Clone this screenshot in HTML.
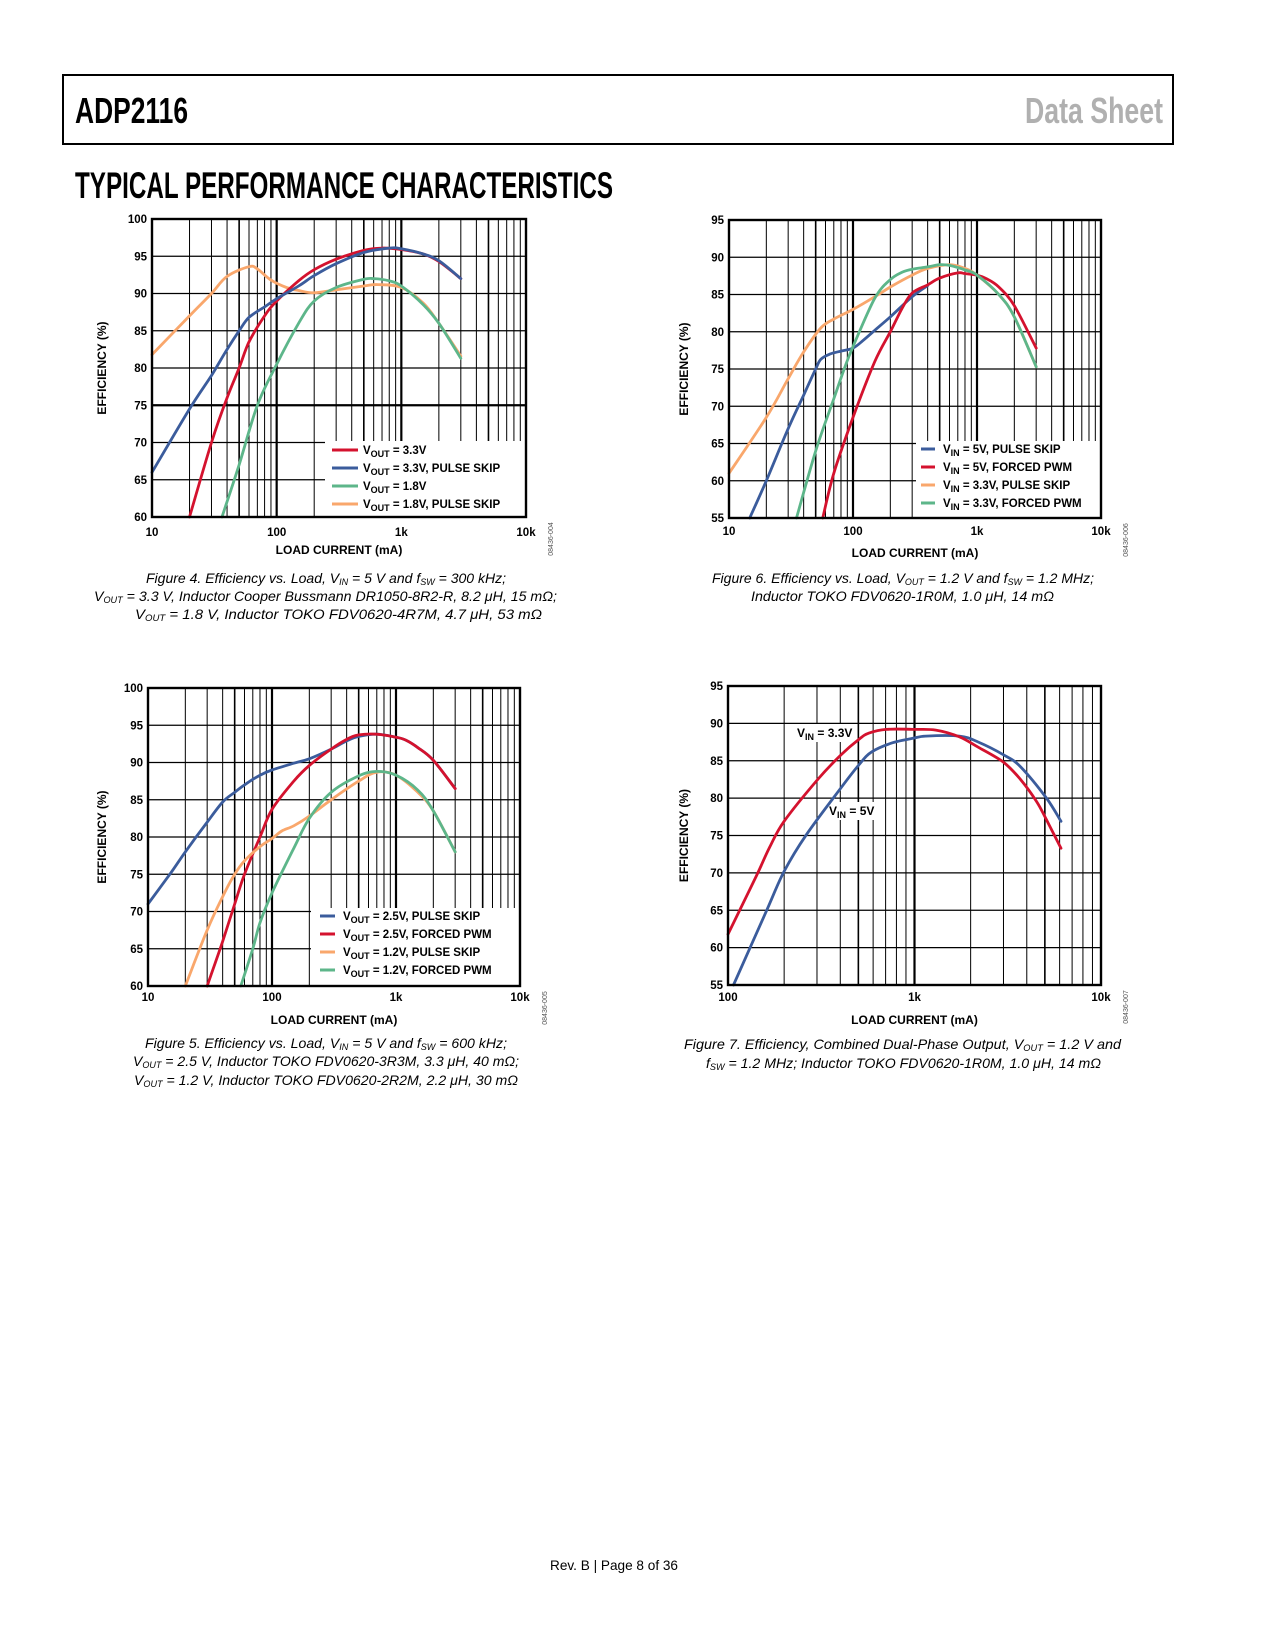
<!DOCTYPE html>
<html><head><meta charset="utf-8"><style>
html,body{margin:0;padding:0;background:#fff}
svg{display:block}
</style></head><body>
<svg id="page" xmlns="http://www.w3.org/2000/svg" width="1275" height="1650" viewBox="0 0 1275 1650" font-family="Liberation Sans, sans-serif">
<rect x="63" y="75" width="1110" height="69" fill="none" stroke="#000" stroke-width="2"/>
<text x="75" y="123" font-size="36" font-weight="bold" textLength="113" lengthAdjust="spacingAndGlyphs">ADP2116</text>
<text x="1025" y="123" font-size="36" font-weight="bold" fill="#b0b0b0" textLength="138" lengthAdjust="spacingAndGlyphs">Data Sheet</text>
<text x="75" y="198" font-size="37" font-weight="bold" textLength="538" lengthAdjust="spacingAndGlyphs">TYPICAL PERFORMANCE CHARACTERISTICS</text>

<g font-style="italic" font-size="14">
<text x="146" y="583" textLength="360" lengthAdjust="spacingAndGlyphs">Figure 4. Efficiency vs. Load, V<tspan font-size="9" dy="2">IN</tspan><tspan dy="-2"> = 5 V and f</tspan><tspan font-size="9" dy="2">SW</tspan><tspan dy="-2"> = 300 kHz;</tspan></text>
<text x="94" y="601" textLength="463" lengthAdjust="spacingAndGlyphs">V<tspan font-size="9" dy="2">OUT</tspan><tspan dy="-2"> = 3.3 V, Inductor Cooper Bussmann DR1050-8R2-R, 8.2 μH, 15 mΩ;</tspan></text>
<text x="135" y="619" textLength="407" lengthAdjust="spacingAndGlyphs">V<tspan font-size="9" dy="2">OUT</tspan><tspan dy="-2"> = 1.8 V, Inductor TOKO FDV0620-4R7M, 4.7 μH, 53 mΩ</tspan></text>
</g>
<g font-style="italic" font-size="14">
<text x="712" y="583" textLength="382" lengthAdjust="spacingAndGlyphs">Figure 6. Efficiency vs. Load, V<tspan font-size="9" dy="2">OUT</tspan><tspan dy="-2"> = 1.2 V and f</tspan><tspan font-size="9" dy="2">SW</tspan><tspan dy="-2"> = 1.2 MHz;</tspan></text>
<text x="751" y="601" textLength="303" lengthAdjust="spacingAndGlyphs">Inductor TOKO FDV0620-1R0M, 1.0 μH, 14 mΩ</text>
</g>
<g font-style="italic" font-size="14">
<text x="145" y="1048" textLength="362" lengthAdjust="spacingAndGlyphs">Figure 5. Efficiency vs. Load, V<tspan font-size="9" dy="2">IN</tspan><tspan dy="-2"> = 5 V and f</tspan><tspan font-size="9" dy="2">SW</tspan><tspan dy="-2"> = 600 kHz;</tspan></text>
<text x="133" y="1066" textLength="386" lengthAdjust="spacingAndGlyphs">V<tspan font-size="9" dy="2">OUT</tspan><tspan dy="-2"> = 2.5 V, Inductor TOKO FDV0620-3R3M, 3.3 μH, 40 mΩ;</tspan></text>
<text x="134" y="1085" textLength="384" lengthAdjust="spacingAndGlyphs">V<tspan font-size="9" dy="2">OUT</tspan><tspan dy="-2"> = 1.2 V, Inductor TOKO FDV0620-2R2M, 2.2 μH, 30 mΩ</tspan></text>
</g>
<g font-style="italic" font-size="14">
<text x="684" y="1049" textLength="437" lengthAdjust="spacingAndGlyphs">Figure 7. Efficiency, Combined Dual-Phase Output, V<tspan font-size="9" dy="2">OUT</tspan><tspan dy="-2"> = 1.2 V and</tspan></text>
<text x="706" y="1068" textLength="395" lengthAdjust="spacingAndGlyphs">f<tspan font-size="9" dy="2">SW</tspan><tspan dy="-2"> = 1.2 MHz; Inductor TOKO FDV0620-1R0M, 1.0 μH, 14 mΩ</tspan></text>
</g>
<text x="550" y="1570" font-size="14" textLength="128" lengthAdjust="spacingAndGlyphs">Rev. B | Page 8 of 36</text>
<g id="charts"></g>
</svg>
<script>
// ---- Figure 4 data ----
const f4RedX=[20,30,40,50,60,80,100,150,200,300,500,700,1000,1500,2000,3000];
const f4RedY=[60,70,76,80,83.5,87,89,91.7,93.2,94.6,95.8,96.1,95.9,95.3,94.3,92];
const f4BlueX=[10,20,30,40,50,60,80,100,150,200,300,500,800,1000,1500,2000,3000];
const f4BlueY=[66,74.5,79,82.5,85,86.8,88.2,89.3,91,92.4,94,95.5,96.1,96,95.3,94.4,92];
const f4GreenX=[36.4,50,70,100,150,200,300,500,600,800,1000,1500,2000,3000];
const f4GreenY=[60,67,75,80.5,86,89,90.8,91.9,92,91.7,91,88.5,86,81.3];
const f4OrangeX=[10,20,30,40,60,70,90,120,150,200,300,500,650,1000,1500,2000,3000];
const f4OrangeY=[81.8,87,90,92.3,93.6,93.3,91.8,90.8,90.4,90.1,90.5,91,91.2,90.8,88.7,86,81.6];
const f4YTicks=["60","65","70","75","80","85","90","95","100"];
const f4XTicks=["10","100","1k","10k"];
// ---- Figure 6 data ----
const f6BlueX=[14.7,20,30,40,50,55,65,80,100,120,150,200,300,400];
const f6BlueY=[55,60,67,71.5,75,76.3,77,77.4,77.8,78.8,80.2,82,84.7,86.2];
const f6RedX=[57,70,100,150,200,250,300,400,500,700,800,1000,1200,1500,2000,3000];
const f6RedY=[55,61,68.5,76,80,83.2,85.2,86.3,87.2,87.9,87.8,87.6,87.1,86,83.5,77.8];
const f6OrangeX=[10,20,30,40,55,70,100,150,200,300,400,600,800,1000,1500,2000,3000];
const f6OrangeY=[61,68.5,73.7,77.3,80.5,81.7,83,84.7,86,87.6,88.5,89,88.5,87.6,85,82,75.3];
const f6GreenX=[35,50,70,85,100,150,200,250,300,400,500,600,800,1000,1500,2000,3000];
const f6GreenY=[55,64,71,75,78,84.5,87,88,88.4,88.7,89,88.9,88.3,87.6,85,82,75.3];
const f6YTicks=["55","60","65","70","75","80","85","90","95"];
const f6XTicks=["10","100","1k","10k"];
// ---- Figure 5 data ----
const f5BlueX=[10,15,20,30,40,50,60,80,100,150,200,300,400,500,700,1000,1200,1500,2000,3000];
const f5BlueY=[71,75,78,82,84.7,86,87,88.3,89,89.9,90.5,91.8,92.9,93.5,93.8,93.4,93,92,90.3,86.5];
const f5RedX=[30,40,50,60,80,100,150,200,300,400,500,700,1000,1200,1500,2000,3000];
const f5RedY=[60,66,71,75,80,83.7,87.5,89.6,91.8,93.1,93.7,93.8,93.4,93,92,90.3,86.5];
const f5OrangeX=[20,30,40,50,60,80,100,120,150,200,300,500,700,1000,1500,2000,3000];
const f5OrangeY=[60,67.5,72,75,76.8,78.7,79.8,80.8,81.5,82.8,85,87.5,88.7,88.3,86,83.5,78];
const f5GreenX=[56,70,80,100,150,200,300,500,700,1000,1500,2000,3000];
const f5GreenY=[60,65,68.5,72.5,78.5,82.5,86,88.2,88.8,88.3,86.3,83.5,78];
const f5YTicks=["60","65","70","75","80","85","90","95","100"];
const f5XTicks=["10","100","1k","10k"];
// ---- Figure 7 data ----
const f7RedX=[100,142,167,200,303,404,505,570,705,1000,1300,1740,2200,3000,3700,4500,5100,6100];
const f7RedY=[61.8,69.6,73.4,76.9,82.5,85.8,87.9,88.7,89.2,89.2,89.1,88.2,86.8,84.8,82.5,79.6,77.1,73.3];
const f7BlueX=[107,160,200,263,404,505,590,760,980,1150,1740,2200,3000,3700,5100,6100];
const f7BlueY=[55,64.8,70.2,75.1,81.4,84.5,86.2,87.4,88,88.3,88.3,87.5,85.8,84.2,80,76.9];
const f7YTicks=["55","60","65","70","75","80","85","90","95"];
const f7XTicks=["100","1k","10k"];

const RED="#d4122e",BLUE="#3b5c9c",GREEN="#5db68a",ORANGE="#f9a76c";
const NS="http://www.w3.org/2000/svg";
const root=document.getElementById('charts');
function mk(tag,attrs,parent){const e=document.createElementNS(NS,tag);for(const k in attrs)e.setAttribute(k,attrs[k]);(parent||root).appendChild(e);return e;}
function catmull(pts){let d="M"+pts[0][0].toFixed(1)+","+pts[0][1].toFixed(1);
 for(let i=0;i<pts.length-1;i++){const p0=pts[i-1]||pts[i],p1=pts[i],p2=pts[i+1],p3=pts[i+2]||p2;
  const c1=[p1[0]+(p2[0]-p0[0])/6,p1[1]+(p2[1]-p0[1])/6],c2=[p2[0]-(p3[0]-p1[0])/6,p2[1]-(p3[1]-p1[1])/6];
  d+=" C"+c1[0].toFixed(1)+","+c1[1].toFixed(1)+" "+c2[0].toFixed(1)+","+c2[1].toFixed(1)+" "+p2[0].toFixed(1)+","+p2[1].toFixed(1);}
 return d;}
function chart(c){
 const g=mk('g',{});
 
 
 const L=c.l,R=c.r,T=c.t,B=c.b;
 const lx0=Math.log10(c.xmin),lx1=Math.log10(c.xmax);
 const sx=v=>L+(Math.log10(v)-lx0)/(lx1-lx0)*(R-L);
 const sy=v=>B-(v-c.ymin)/(c.ymax-c.ymin)*(B-T);
 for(let d=lx0;d<lx1;d++){for(let m=2;m<=9;m++){const x=sx(m*Math.pow(10,d));
  const ln=mk('line',{x1:x,y1:T,x2:x,y2:B,stroke:'#000','stroke-width':(m==5?1.6:1)},g);
  
  }
  if(d>lx0){const x=sx(Math.pow(10,d));const ln=mk('line',{x1:x,y1:T,x2:x,y2:B,stroke:'#000','stroke-width':2.2},g);
  
  }}
 c.yt.forEach((t,i)=>{const y=sy(+t);
  const ln=mk('line',{x1:L,y1:y,x2:R,y2:y,stroke:'#000','stroke-width':(c.thick&&+t==c.thick)?2.2:1.2},g);
  
  
  const tx=mk('text',{x:L-5,y:y+4,'font-size':11.5,'font-weight':'bold','text-anchor':'end'},g);tx.textContent=t;
  
  });
 const xv={"10":10,"100":100,"1k":1000,"10k":10000};
 c.xt.forEach(t=>{const tx=mk('text',{x:sx(xv[t]),y:c.xly,'font-size':11.5,'font-weight':'bold','text-anchor':'middle'},g);tx.textContent=t;
  
  });
 if(c.leg){const lb=mk('rect',{x:c.leg.x,y:c.leg.y,width:R-c.leg.x-1,height:B-c.leg.y-1,fill:'#fff'},g);
  
  }
 (c.notes||[]).forEach(n=>{const r=mk('rect',{x:n.x-3,y:n.y-13,width:n.w,height:18,fill:'#fff'},g);
  
  
  const tx=mk('text',{x:n.x,y:n.y,'font-size':12,'font-weight':'bold'},g);
  tx.innerHTML='V<tspan font-size="9" dy="3">IN</tspan><tspan dy="-3"> = '+n.v+'</tspan>';
  
  });
 c.series.forEach(s=>{const pts=s.x.map((v,i)=>[sx(v),sy(s.y[i])]);
  const p=mk('path',{d:catmull(pts),fill:'none',stroke:s.c,'stroke-width':2.8,'stroke-linejoin':'round','stroke-linecap':'round'},g);
  
  });
 const fr=mk('rect',{x:L,y:T,width:R-L,height:B-T,fill:'none',stroke:'#000','stroke-width':2.4},g);
 
 
 if(c.leg){c.leg.items.forEach((it,i)=>{const y=c.leg.y0+i*c.leg.dy;
  const ln=mk('line',{x1:c.leg.sx0,y1:y,x2:c.leg.sx1,y2:y,stroke:it.c,'stroke-width':3},g);
  
  
  const tx=mk('text',{x:c.leg.tx,y:y+4,'font-size':11.5,'font-weight':'bold'},g);
  tx.innerHTML='V<tspan font-size="9" dy="3">'+it.s+'</tspan><tspan dy="-3"> = '+it.t+'</tspan>';
  
  });}
 const xt=mk('text',{x:(L+R)/2,y:c.xty,'font-size':12,'font-weight':'bold','text-anchor':'middle'},g);xt.textContent='LOAD CURRENT (mA)';
 
 
 const yt=mk('text',{x:0,y:0,'font-size':12,'font-weight':'bold','text-anchor':'middle',transform:'translate('+(c.ytx)+','+((T+B)/2)+') rotate(-90)'},g);yt.textContent='EFFICIENCY (%)';
 
 
 const cd=mk('text',{x:0,y:0,'font-size':7,fill:'#555','text-anchor':'middle',transform:'translate('+(R+27)+','+(B+22)+') rotate(-90)'},g);cd.textContent=c.code;
 
 
}
chart({name:'figure-4-chart',l:152,r:526,t:219,b:517,xmin:10,xmax:10000,ymin:60,ymax:100,yt:f4YTicks,xt:f4XTicks,thick:75,xly:536,xty:554,ytx:106,code:'08436-004',
 series:[{n:'series-vout-1v8-pulse-skip',x:f4OrangeX,y:f4OrangeY,c:ORANGE},{n:'series-vout-1v8',x:f4GreenX,y:f4GreenY,c:GREEN},{n:'series-vout-3v3',x:f4RedX,y:f4RedY,c:RED},{n:'series-vout-3v3-pulse-skip',x:f4BlueX,y:f4BlueY,c:BLUE}],
 leg:{x:325,y:441,y0:450,dy:18,sx0:332,sx1:358,tx:363,items:[{s:'OUT',t:'3.3V',c:RED},{s:'OUT',t:'3.3V, PULSE SKIP',c:BLUE},{s:'OUT',t:'1.8V',c:GREEN},{s:'OUT',t:'1.8V, PULSE SKIP',c:ORANGE}]}});
chart({name:'figure-6-chart',l:729,r:1101,t:220,b:518,xmin:10,xmax:10000,ymin:55,ymax:95,yt:f6YTicks,xt:f6XTicks,xly:535,xty:557,ytx:688,code:'08436-006',
 series:[{n:'series-vin-3v3-pulse-skip',x:f6OrangeX,y:f6OrangeY,c:ORANGE},{n:'series-vin-5v-pulse-skip',x:f6BlueX,y:f6BlueY,c:BLUE},{n:'series-vin-5v-forced-pwm',x:f6RedX,y:f6RedY,c:RED},{n:'series-vin-3v3-forced-pwm',x:f6GreenX,y:f6GreenY,c:GREEN}],
 leg:{x:916,y:441,y0:449,dy:18,sx0:921,sx1:935,tx:943,items:[{s:'IN',t:'5V, PULSE SKIP',c:BLUE},{s:'IN',t:'5V, FORCED PWM',c:RED},{s:'IN',t:'3.3V, PULSE SKIP',c:ORANGE},{s:'IN',t:'3.3V, FORCED PWM',c:GREEN}]}});
chart({name:'figure-5-chart',l:148,r:520,t:688,b:986,xmin:10,xmax:10000,ymin:60,ymax:100,yt:f5YTicks,xt:f5XTicks,xly:1001,xty:1024,ytx:106,code:'08436-005',
 series:[{n:'series-vout-2v5-pulse-skip',x:f5BlueX,y:f5BlueY,c:BLUE},{n:'series-vout-2v5-forced-pwm',x:f5RedX,y:f5RedY,c:RED},{n:'series-vout-1v2-pulse-skip',x:f5OrangeX,y:f5OrangeY,c:ORANGE},{n:'series-vout-1v2-forced-pwm',x:f5GreenX,y:f5GreenY,c:GREEN}],
 leg:{x:311,y:908,y0:916,dy:18,sx0:320,sx1:335,tx:343,items:[{s:'OUT',t:'2.5V, PULSE SKIP',c:BLUE},{s:'OUT',t:'2.5V, FORCED PWM',c:RED},{s:'OUT',t:'1.2V, PULSE SKIP',c:ORANGE},{s:'OUT',t:'1.2V, FORCED PWM',c:GREEN}]}});
chart({name:'figure-7-chart',l:728,r:1101,t:686,b:985,xmin:100,xmax:10000,ymin:55,ymax:95,yt:f7YTicks,xt:f7XTicks,xly:1001,xty:1024,ytx:688,code:'08436-007',
 notes:[{x:797,y:737,w:62,v:'3.3V'},{x:829,y:815,w:50,v:'5V'}],
 series:[{n:'series-vin-5v',x:f7BlueX,y:f7BlueY,c:BLUE},{n:'series-vin-3v3',x:f7RedX,y:f7RedY,c:RED}]});
</script>
</body></html>
